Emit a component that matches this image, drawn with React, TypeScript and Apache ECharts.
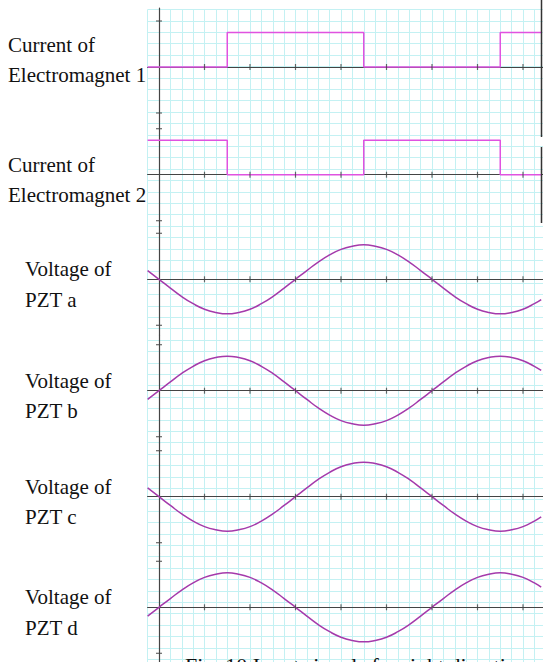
import React, { useEffect, useRef } from "react";
import * as echarts from "echarts";

// ---- data ----
const xTicks = [1, 2, 3, 4, 5, 6, 7, 8];
const yTicks = [-1, 1];

// square waves (transition times / levels)
const em1X = [-0.25, 1.5, 1.5, 4.5, 4.5, 7.5, 7.5, 8.4];
const em1Y = [0, 0, 0.75, 0.75, 0, 0, 0.75, 0.75];
const em2X = [-0.25, 1.5, 1.5, 4.5, 4.5, 7.5, 7.5, 8.4];
const em2Y = [0.75, 0.75, 0, 0, 0.75, 0.75, 0, 0];

// sine-like voltages
const phaseX = [-0.25, 0, 0.25, 0.5, 0.75, 1, 1.25, 1.5, 1.75, 2, 2.25, 2.5, 2.75, 3, 3.25, 3.5, 3.75, 4, 4.25, 4.5, 4.75, 5, 5.25, 5.5, 5.75, 6, 6.25, 6.5, 6.75, 7, 7.25, 7.5, 7.75, 8, 8.25, 8.4];
const pztA = [0.19, 0, -0.19, -0.375, -0.53, -0.65, -0.72, -0.75, -0.72, -0.65, -0.53, -0.375, -0.19, 0, 0.19, 0.375, 0.53, 0.65, 0.72, 0.75, 0.72, 0.65, 0.53, 0.375, 0.19, 0, -0.19, -0.375, -0.53, -0.65, -0.72, -0.75, -0.72, -0.65, -0.53, -0.44];
const pztB = [-0.19, 0, 0.19, 0.375, 0.53, 0.65, 0.72, 0.75, 0.72, 0.65, 0.53, 0.375, 0.19, 0, -0.19, -0.375, -0.53, -0.65, -0.72, -0.75, -0.72, -0.65, -0.53, -0.375, -0.19, 0, 0.19, 0.375, 0.53, 0.65, 0.72, 0.75, 0.72, 0.65, 0.53, 0.44];
const pztC = [0.19, 0, -0.19, -0.375, -0.53, -0.65, -0.72, -0.75, -0.72, -0.65, -0.53, -0.375, -0.19, 0, 0.19, 0.375, 0.53, 0.65, 0.72, 0.75, 0.72, 0.65, 0.53, 0.375, 0.19, 0, -0.19, -0.375, -0.53, -0.65, -0.72, -0.75, -0.72, -0.65, -0.53, -0.44];
const pztD = [-0.19, 0, 0.19, 0.375, 0.53, 0.65, 0.72, 0.75, 0.72, 0.65, 0.53, 0.375, 0.19, 0, -0.19, -0.375, -0.53, -0.65, -0.72, -0.75, -0.72, -0.65, -0.53, -0.375, -0.19, 0, 0.19, 0.375, 0.53, 0.65, 0.72, 0.75, 0.72, 0.65, 0.53, 0.44];

const labels1 = ["Current of", "Current of", "Voltage of", "Voltage of", "Voltage of", "Voltage of"];
const labels2 = ["Electromagnet 1", "Electromagnet 2", "PZT a", "PZT b", "PZT c", "PZT d"];
const caption = "Fig. 10 Input signals for right direction";

// ---- layout ----
const W = 543;
const H = 662;
const X0 = 159; // pixel of x = 0
const XU = 45.5; // px per x unit
const XMIN = -0.25;
const GRID_LEFT = X0 + XMIN * XU;
const XMAX = (W - GRID_LEFT) / XU + XMIN;
const YU = 46; // px per y unit
const BASES = [67, 174.7, 279.3, 390.7, 496.7, 607.3];
const BOUNDS = [8, 121, 227, 335, 443, 553, 662];

const SQUARE_COLOR = "#e052e0";
const SINE_COLOR = "#a53aab";
const AXIS_COLOR = "#444";
const GRID_COLOR = "#c4f1f3";
const FONT = '"Liberation Serif", "Times New Roman", serif';

export default function App() {
  const ref = useRef<HTMLDivElement>(null);
  useEffect(() => {
    if (!ref.current) return;
    const chart = echarts.init(ref.current, undefined, { renderer: "svg" });

    const grids: any[] = [
      { left: GRID_LEFT, top: 9.5, width: W - GRID_LEFT, height: H - 9.5 },
    ];
    const xAxes: any[] = [
      {
        gridIndex: 0, type: "value", min: XMIN, max: XMAX, interval: 0.25,
        axisLine: { show: false }, axisTick: { show: false }, axisLabel: { show: false },
        splitLine: { show: true, lineStyle: { color: GRID_COLOR, width: 1 } },
      },
    ];
    const yAxes: any[] = [
      {
        gridIndex: 0, type: "value", inverse: true, min: 0, max: H - 9.5, interval: 11.4,
        axisLine: { show: false }, axisTick: { show: false }, axisLabel: { show: false },
        splitLine: { show: true, lineStyle: { color: GRID_COLOR, width: 1 } },
      },
    ];
    const series: any[] = [];

    const waves = [
      { xs: em1X, ys: em1Y, color: SQUARE_COLOR, smooth: false },
      { xs: em2X, ys: em2Y, color: SQUARE_COLOR, smooth: false },
      { xs: phaseX, ys: pztA, color: SINE_COLOR, smooth: true },
      { xs: phaseX, ys: pztB, color: SINE_COLOR, smooth: true },
      { xs: phaseX, ys: pztC, color: SINE_COLOR, smooth: true },
      { xs: phaseX, ys: pztD, color: SINE_COLOR, smooth: true },
    ];

    BASES.forEach((base, i) => {
      const top = BOUNDS[i];
      const bottom = BOUNDS[i + 1];
      const gi = i + 1;
      grids.push({ left: GRID_LEFT, top, width: W - GRID_LEFT, height: bottom - top });
      xAxes.push({
        gridIndex: gi, type: "value", min: XMIN, max: XMAX,
        axisLine: { show: true, onZero: true, lineStyle: { color: AXIS_COLOR, width: 1.2 } },
        axisTick: { show: false }, axisLabel: { show: false }, splitLine: { show: false },
      });
      yAxes.push({
        gridIndex: gi, type: "value",
        min: -(bottom - base) / YU, max: (base - top) / YU,
        axisLine: { show: true, onZero: true, lineStyle: { color: AXIS_COLOR, width: 1.2 } },
        axisTick: { show: false }, axisLabel: { show: false }, splitLine: { show: false },
      });
      const w = waves[i];
      series.push({
        type: "line", xAxisIndex: gi, yAxisIndex: gi,
        data: w.xs.map((x, k) => [x, w.ys[k]]),
        smooth: w.smooth, showSymbol: false, symbol: "none",
        lineStyle: { color: w.color, width: 1.5 }, silent: true, z: 3,
      });
      series.push({
        type: "scatter", xAxisIndex: gi, yAxisIndex: gi,
        data: xTicks.map((x) => [x, 0]),
        symbol: "rect", symbolSize: [1.2, 6],
        itemStyle: { color: AXIS_COLOR }, silent: true, z: 4,
      });
      series.push({
        type: "scatter", xAxisIndex: gi, yAxisIndex: gi,
        data: yTicks.map((y) => [0, y]),
        symbol: "rect", symbolSize: [6, 1.2],
        itemStyle: { color: AXIS_COLOR }, silent: true, z: 4,
      });
    });

    const graphic: any[] = [];
    BASES.forEach((base, i) => {
      const isCurrent = i < 2;
      const x = isCurrent ? 8 : 25;
      const b1 = i === 0 ? base - 14.7 : base - 3;
      const b2 = i === 0 ? base + 15.3 : base + 27.3;
      graphic.push({
        type: "text", x, y: b1 - 7,
        style: { text: labels1[i], font: `21px ${FONT}`, fill: "#111", align: "left", verticalAlign: "middle" },
        z: 10,
      });
      graphic.push({
        type: "text", x, y: b2 - 7,
        style: { text: labels2[i], font: `21px ${FONT}`, fill: "#111", align: "left", verticalAlign: "middle" },
        z: 10,
      });
    });
    graphic.push({
      type: "text", x: 185, y: 665,
      style: { text: caption, font: `22px ${FONT}`, fill: "#111", align: "left", verticalAlign: "middle" },
      z: 10,
    });
    graphic.push({
      type: "line", shape: { x1: 541.5, y1: 0, x2: 541.5, y2: 137 },
      style: { stroke: "#333", lineWidth: 1.5 }, z: 10,
    });
    graphic.push({
      type: "line", shape: { x1: 541.5, y1: 147, x2: 541.5, y2: 223 },
      style: { stroke: "#333", lineWidth: 1.5 }, z: 10,
    });

    chart.setOption({
      animation: false,
      backgroundColor: "#ffffff",
      grid: grids,
      xAxis: xAxes,
      yAxis: yAxes,
      series,
      graphic,
    });
    return () => chart.dispose();
  }, []);
  return (
    <div
      ref={ref}
      style={{ position: "absolute", left: 0, top: 0, width: W, height: H }}
    />
  );
}
